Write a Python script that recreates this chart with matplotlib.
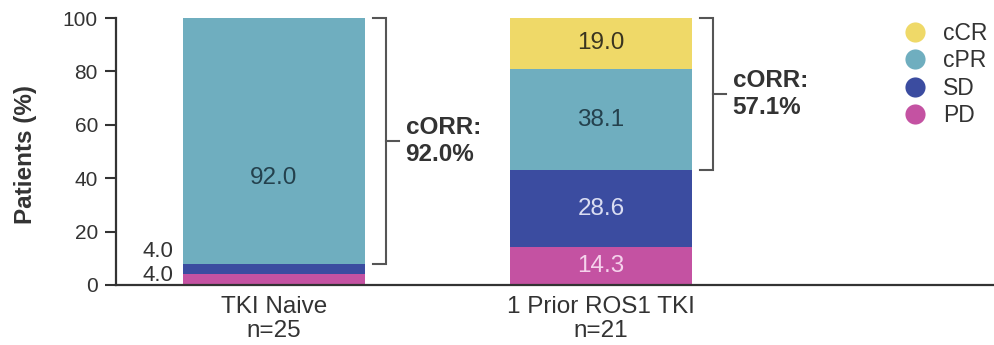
import matplotlib
matplotlib.use("Agg")
import matplotlib.pyplot as plt
from matplotlib.lines import Line2D
import numpy as np

plt.rcParams['font.family'] = ['Liberation Sans', 'DejaVu Sans']

# ---- data -------------------------------------------------------------
groups = ["TKI Naive\nn=25", "1 Prior ROS1 TKI\nn=21"]
responses = ["cCR", "cPR", "SD", "PD"]
# stacked from the bottom: PD, SD, cPR, cCR
pd_vals = [4.0, 14.3]
sd_vals = [4.0, 28.6]
cpr_vals = [92.0, 38.1]
ccr_vals = [0.0, 19.0]
corr_vals = [92.0, 57.1]

colors = {"cCR": "#EFD968", "cPR": "#6FAEBF", "SD": "#3B4CA0", "PD": "#C452A2"}
label_colors = {"cCR": "#3A3520", "cPR": "#24414D", "SD": "#DADDF2", "PD": "#F5D3EC"}
ink = "#333333"

fig = plt.figure(figsize=(9.94, 3.45), dpi=100)
ax = fig.add_axes([116 / 994, 60 / 345, (994 - 116) / 994, 267 / 345])

x = np.arange(len(groups))
width = 0.557

segments = [("PD", pd_vals), ("SD", sd_vals), ("cPR", cpr_vals), ("cCR", ccr_vals)]
bottom = np.zeros(len(groups))
for name, vals in segments:
    vals = np.array(vals)
    ax.bar(x, vals, width, bottom=bottom, color=colors[name], edgecolor="none", zorder=2)
    for i, v in enumerate(vals):
        if v <= 0:
            continue
        if v < 5:
            # thin segments get their value written beside the bar
            ax.text(x[i] - width / 2 - 0.03, bottom[i] + (1.6 if name == "PD" else 6.5) + v / 2,
                    f"{v:.1f}", ha="right", va="center", fontsize=16, color=ink)
        else:
            ypos = bottom[i] + v / 2
            if i == 0 and name == "cPR":
                ypos = 40
            ax.text(x[i], ypos, f"{v:.1f}", ha="center", va="center",
                    fontsize=17.5, color=label_colors[name])
    bottom += vals

# ---- cORR brackets ----------------------------------------------------
for i, c in enumerate(corr_vals):
    top = 100.0
    low = top - c
    x0 = x[i] + width / 2 + 0.024
    x1 = x0 + 0.04
    mid = (top + low) / 2
    ax.plot([x0, x1, x1, x0], [top, top, low, low], color="#555555", lw=1.5,
            solid_joinstyle="miter", clip_on=False, zorder=3)
    ax.plot([x1, x1 + 0.04], [mid, mid], color="#555555", lw=1.5, clip_on=False, zorder=3)
    ax.text(x1 + 0.06, mid, f"cORR:\n{c:.1f}%", ha="left", va="center",
            fontsize=17.5, fontweight="bold", color=ink, linespacing=1.25)

# ---- axes styling -----------------------------------------------------
ax.set_xlim(-0.483, 2.202)
ax.set_ylim(0, 100)
ax.set_yticks([0, 20, 40, 60, 80, 100])
ax.set_xticks(x)
ax.set_xticklabels(groups, fontsize=17.5, color=ink, linespacing=1.12)
ax.tick_params(axis="x", length=0, pad=8)
ax.tick_params(axis="y", labelsize=15, labelcolor=ink, length=8, width=1.5, color=ink, pad=5)
for s in ["top", "right"]:
    ax.spines[s].set_visible(False)
for s in ["left", "bottom"]:
    ax.spines[s].set_color(ink)
    ax.spines[s].set_linewidth(1.6)
ax.set_ylabel("Patients (%)", fontsize=17.5, fontweight="bold", color=ink)
ax.yaxis.set_label_coords(-0.09, 0.487)

# ---- legend -----------------------------------------------------------
handles = [Line2D([], [], ls="none", marker="o", markersize=14.5, color=colors[r],
                  markeredgecolor="none") for r in responses]
fig.legend(handles, responses, loc="upper left",
           bbox_to_anchor=(904 / 994, 1 - 22 / 345), bbox_transform=fig.transFigure,
           frameon=False, fontsize=16.5, labelcolor=ink, handlelength=1.0,
           handletextpad=0.72, labelspacing=0.19, borderpad=0, borderaxespad=0)

fig.savefig("out.png", dpi=100)
